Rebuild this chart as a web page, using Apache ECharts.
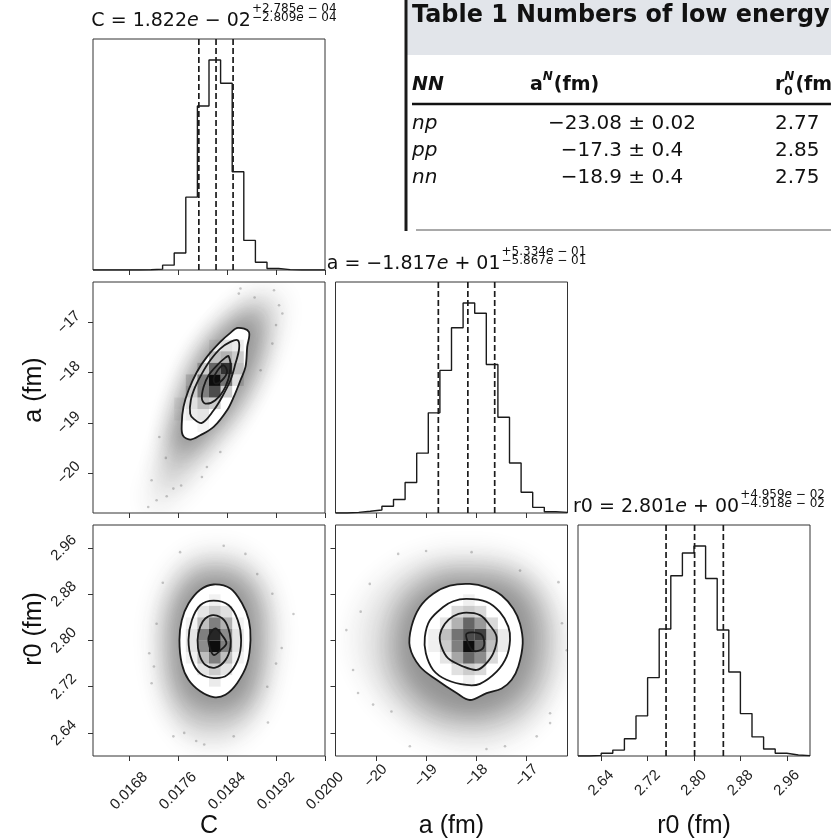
<!DOCTYPE html>
<html>
<head>
<meta charset="utf-8">
<script src="https://cdn.jsdelivr.net/npm/echarts@6/dist/echarts.min.js"></script>
<style>
  html, body { margin: 0; padding: 0; background: #fff; }
  #chart { width: 831px; height: 840px; }
</style>
</head>
<body>
<div id="chart"></div>
<script>
// ---------- parameter ranges and tick values ----------
const rangeC = [0.01621, 0.0200];
const rangeA = [-20.80, -16.19];
const rangeR = [2.600, 3.000];
const ticksC = [0.0168, 0.0176, 0.0184, 0.0192, 0.0200];
const ticksA = [-20, -19, -18, -17];
const ticksR = [2.64, 2.72, 2.80, 2.88, 2.96];

// ---------- marginal histograms (20 bins over each range, relative counts) ----------
const histC = [0, 0, 0, 0, 1, 4, 23, 81, 347, 781, 1000, 889, 468, 141, 37, 7, 2, 0, 0, 0];
const histA = [0, 3, 8, 14, 32, 64, 145, 285, 477, 679, 882, 1000, 951, 707, 456, 238, 99, 27, 6, 3];
const histR = [0, 3, 13, 28, 82, 191, 373, 605, 858, 967, 1000, 845, 600, 400, 202, 91, 33, 13, 5, 2];

// ---------- medians and 16/84 % offsets ----------
const paramNames = ['C', 'a', 'r0'];
const medians   = [0.01822, -18.17, 2.801];
const errPlus   = [2.785e-4, 0.5334, 0.04959];
const errMinus  = [2.809e-4, 0.5867, 0.04918];

// ---------- 2D panel: a vs C ----------
const contoursCA = [
  [[0.018575,-17.106],[0.018756,-17.186],[0.018729,-17.486],[0.018701,-17.885],[0.018619,-18.151],[0.018509,-18.484],[0.0184,-18.750],[0.018181,-19.083],[0.017962,-19.249],[0.017797,-19.335],[0.017677,-19.249],[0.01766,-19.016],[0.017688,-18.683],[0.01777,-18.351],[0.017907,-17.985],[0.018071,-17.685],[0.01829,-17.386],[0.018455,-17.206]],
  [[0.018575,-17.353],[0.018597,-17.519],[0.018537,-17.818],[0.018455,-18.151],[0.018318,-18.484],[0.018181,-18.750],[0.017989,-19.003],[0.017852,-18.916],[0.017797,-18.816],[0.017808,-18.550],[0.017879,-18.284],[0.017989,-18.018],[0.018126,-17.752],[0.01829,-17.519],[0.018455,-17.386]],
  [[0.018427,-17.672],[0.018455,-17.918],[0.018373,-18.284],[0.018208,-18.550],[0.018044,-18.617],[0.017989,-18.517],[0.018016,-18.284],[0.018099,-18.051],[0.018236,-17.852],[0.018373,-17.699]],
  [[0.018345,-17.852],[0.0184,-17.985],[0.018318,-18.151],[0.018208,-18.218],[0.018181,-18.118],[0.018247,-17.951]]
];
const cloudCA = [
  [[0.019057,-16.321],[0.019331,-16.554],[0.019277,-17.153],[0.019057,-17.885],[0.018729,-18.683],[0.018345,-19.415],[0.017962,-20.014],[0.017578,-20.546],[0.017194,-20.812],[0.017085,-20.480],[0.017249,-19.881],[0.017468,-19.083],[0.017688,-18.284],[0.018016,-17.486],[0.018455,-16.754],[0.018783,-16.421]],
  [[0.018948,-16.554],[0.019112,-16.820],[0.019057,-17.419],[0.018866,-18.084],[0.018564,-18.750],[0.018236,-19.282],[0.017852,-19.814],[0.017468,-20.214],[0.017304,-20.081],[0.017359,-19.548],[0.017523,-18.949],[0.017715,-18.284],[0.018016,-17.552],[0.0184,-16.953],[0.018729,-16.621]],
  [[0.018838,-16.820],[0.018948,-17.086],[0.01892,-17.619],[0.018756,-18.218],[0.018455,-18.816],[0.018126,-19.216],[0.017797,-19.548],[0.017523,-19.548],[0.017496,-19.149],[0.017578,-18.683],[0.017742,-18.084],[0.018016,-17.486],[0.018345,-17.086],[0.018619,-16.874]]
];
const dotsCA = [[0.019167,-16.355],[0.019249,-16.654],[0.019304,-16.820],[0.018592,-16.421],[0.017112,-20.679],[0.017249,-20.546],[0.017414,-20.466],[0.017523,-20.313],[0.017989,-20.081],[0.01829,-19.582],[0.018948,-17.951],[0.01914,-17.419],[0.017293,-19.282],[0.018071,-19.881],[0.017167,-20.147],[0.018619,-16.321],[0.019200,-17.050],[0.017400,-19.700],[0.018850,-16.500],[0.017650,-20.250]];
// density cells: [C bin, a bin, shade]
const cellsCA = [[10,11,0.95],[11,12,0.8],[10,12,0.6],[10,10,0.7],[11,11,0.55],[9,11,0.5],[9,10,0.5],[11,13,0.3],[12,13,0.2],[10,13,0.25],[12,12,0.25],[9,9,0.25],[8,9,0.12],[8,10,0.2],[12,14,0.08],[11,14,0.12],[10,9,0.2],[9,8,0.1],[8,8,0.08],[12,11,0.12],[11,10,0.2],[8,11,0.15],[9,12,0.2],[10,14,0.06],[7,8,0.04],[7,9,0.05],[9,7,0.04]];

// ---------- 2D panel: r0 vs C ----------
const contoursCR = [
  [[0.018181,2.897],[0.018455,2.890],[0.018646,2.864],[0.018756,2.835],[0.018783,2.801],[0.018729,2.760],[0.018564,2.726],[0.018373,2.706],[0.018181,2.702],[0.017962,2.712],[0.01777,2.732],[0.01766,2.760],[0.017622,2.801],[0.01766,2.835],[0.01777,2.864],[0.017962,2.888]],
  [[0.018181,2.869],[0.018427,2.861],[0.018575,2.835],[0.01863,2.801],[0.018575,2.766],[0.0184,2.740],[0.018181,2.735],[0.017962,2.743],[0.017825,2.766],[0.01777,2.801],[0.017825,2.835],[0.017962,2.861]],
  [[0.018181,2.844],[0.018356,2.835],[0.018444,2.812],[0.018455,2.789],[0.018373,2.766],[0.018208,2.753],[0.018044,2.758],[0.017951,2.775],[0.017918,2.801],[0.017962,2.824],[0.018044,2.838]],
  [[0.018208,2.821],[0.018318,2.809],[0.018389,2.795],[0.01829,2.783],[0.018181,2.775],[0.018115,2.789],[0.018099,2.806]]
];
const cloudCR = [
  [[0.018181,2.961],[0.018619,2.955],[0.019003,2.921],[0.019222,2.858],[0.019277,2.801],[0.019167,2.732],[0.018948,2.669],[0.018509,2.623],[0.018181,2.614],[0.017797,2.623],[0.017468,2.663],[0.017249,2.726],[0.017167,2.801],[0.017249,2.869],[0.017523,2.927],[0.017852,2.955]],
  [[0.018181,2.938],[0.018619,2.927],[0.018975,2.887],[0.019085,2.829],[0.019057,2.772],[0.018948,2.709],[0.018619,2.657],[0.018181,2.643],[0.017742,2.654],[0.017441,2.703],[0.017359,2.772],[0.017386,2.841],[0.017578,2.898],[0.017852,2.930]],
  [[0.018181,2.915],[0.018564,2.907],[0.018838,2.869],[0.01892,2.806],[0.018866,2.743],[0.018674,2.697],[0.01829,2.680],[0.017907,2.686],[0.017605,2.720],[0.017496,2.783],[0.017523,2.847],[0.017715,2.892],[0.017934,2.911]]
];
const dotsCR = [[0.019485,2.846],[0.019293,2.787],[0.017129,2.778],[0.017205,2.755],[0.017896,2.626],[0.018027,2.620],[0.018509,2.634],[0.019068,2.658],[0.017633,2.953],[0.018893,2.915],[0.01914,2.881],[0.017249,2.829],[0.019057,2.720],[0.017523,2.634],[0.018345,2.964],[0.017167,2.726],[0.017350,2.900],[0.019200,2.760],[0.018700,2.950],[0.017700,2.640]];
const cellsCR = [[10,9,0.95],[10,10,0.85],[9,10,0.5],[11,10,0.45],[11,9,0.5],[9,9,0.45],[10,11,0.5],[10,8,0.5],[9,11,0.25],[11,11,0.3],[9,8,0.25],[11,8,0.25],[10,12,0.2],[10,7,0.2],[10,6,0.08],[9,12,0.1],[11,12,0.12],[9,7,0.1],[11,7,0.1],[8,9,0.1],[8,10,0.1],[12,9,0.1],[12,10,0.1],[8,11,0.05],[12,11,0.05],[10,13,0.05],[8,8,0.05],[12,8,0.05]];

// ---------- 2D panel: r0 vs a ----------
const contoursAR = [
  [[-18.129,2.898],[-17.797,2.892],[-17.498,2.878],[-17.266,2.855],[-17.133,2.829],[-17.080,2.795],[-17.167,2.755],[-17.299,2.732],[-17.498,2.717],[-17.797,2.709],[-18.129,2.697],[-18.394,2.709],[-18.792,2.732],[-19.124,2.755],[-19.323,2.789],[-19.290,2.824],[-19.124,2.858],[-18.859,2.881],[-18.527,2.895]],
  [[-18.195,2.872],[-17.797,2.867],[-17.532,2.849],[-17.366,2.824],[-17.332,2.801],[-17.399,2.772],[-17.598,2.746],[-17.930,2.725],[-18.195,2.723],[-18.593,2.732],[-18.859,2.749],[-19.005,2.778],[-19.025,2.806],[-18.925,2.835],[-18.660,2.858],[-18.461,2.868]],
  [[-18.261,2.848],[-17.930,2.844],[-17.731,2.826],[-17.598,2.806],[-17.664,2.778],[-17.830,2.758],[-17.996,2.749],[-18.261,2.755],[-18.560,2.769],[-18.693,2.789],[-18.726,2.809],[-18.626,2.829],[-18.461,2.842]],
  [[-18.195,2.812],[-17.930,2.812],[-17.850,2.801],[-17.877,2.786],[-18.062,2.782],[-18.162,2.795]]
];
const cloudAR = [
  [[-18.195,2.958],[-17.399,2.950],[-16.802,2.921],[-16.337,2.858],[-16.204,2.789],[-16.404,2.715],[-16.868,2.652],[-17.532,2.617],[-18.195,2.611],[-18.925,2.629],[-19.655,2.669],[-20.186,2.726],[-20.451,2.789],[-20.319,2.858],[-19.788,2.915],[-18.991,2.950]],
  [[-18.195,2.9325],[-17.399,2.9267],[-16.868,2.898],[-16.536,2.8465],[-16.470,2.7891],[-16.603,2.726],[-17.001,2.6744],[-17.664,2.6486],[-18.261,2.6458],[-18.925,2.6572],[-19.522,2.6973],[-19.854,2.749],[-19.920,2.8063],[-19.721,2.8637],[-19.257,2.9095],[-18.726,2.9296]],
  [[-18.195,2.9095],[-17.532,2.9038],[-17.067,2.878],[-16.835,2.835],[-16.802,2.7891],[-16.934,2.7375],[-17.266,2.6973],[-17.797,2.6744],[-18.261,2.6715],[-18.792,2.6859],[-19.257,2.7174],[-19.522,2.7604],[-19.555,2.8063],[-19.390,2.858],[-18.991,2.8923],[-18.593,2.9084]]
];
const dotsAR = [[-20.584,2.818],[-20.451,2.749],[-20.119,2.898],[-19.555,2.950],[-17.133,2.921],[-16.204,2.783],[-16.536,2.674],[-16.536,2.657],[-16.802,2.634],[-19.323,2.617],[-19.688,2.677],[-20.352,2.709],[-16.370,2.901],[-20.053,2.689],[-17.432,2.617],[-18.096,2.953],[-20.300,2.850],[-16.300,2.830],[-19.000,2.955],[-17.800,2.612]];
const cellsAR = [[11,9,0.95],[11,11,0.6],[12,10,0.75],[10,10,0.55],[11,10,0.7],[12,9,0.6],[10,9,0.5],[11,8,0.6],[12,8,0.45],[10,8,0.35],[13,10,0.3],[13,9,0.25],[9,10,0.25],[9,9,0.2],[12,11,0.4],[10,11,0.3],[10,12,0.15],[11,12,0.2],[12,12,0.15],[10,7,0.12],[11,7,0.2],[12,7,0.15],[13,11,0.15],[13,8,0.15],[9,11,0.1],[9,8,0.1],[14,9,0.08],[14,10,0.08],[8,9,0.06],[8,10,0.06],[11,13,0.06],[11,6,0.06]];

// ---------- table overlay text ----------
const tableTitle = 'Table 1 Numbers of low energy';
const tableRows = [
  ['np', '−23.08 ± 0.02', '2.77'],
  ['pp', '−17.3 ± 0.4', '2.85'],
  ['nn', '−18.9 ± 0.4', '2.75']
];

// ================= layout =================
const NB = 20;
const colX = [93, 335.5, 578];
const rowY = [39, 282, 525];
const PW = 232, PH = 231;

const tickFont = 'Liberation Sans';
const tickSize = 15;
const fmtC = v => v.toFixed(4);
const fmtA = v => (v < 0 ? '−' : '') + Math.abs(v).toFixed(0);
const fmtR = v => v.toFixed(2);

const panels = [
  { col: 0, row: 0 }, // hist C
  { col: 0, row: 1 }, // a vs C
  { col: 0, row: 2 }, // r0 vs C
  { col: 1, row: 1 }, // hist a
  { col: 1, row: 2 }, // r0 vs a
  { col: 2, row: 2 }  // hist r0
];

const grids = panels.map(p => ({
  left: colX[p.col], top: rowY[p.row], width: PW, height: PH,
  show: true, borderColor: '#333', borderWidth: 1, backgroundColor: 'transparent'
}));

function valueAxisCfg(gi, range, ticks, fmt, showLabels, margin) {
  return {
    type: 'value', gridIndex: gi, min: range[0], max: range[1],
    axisLine: { show: false }, splitLine: { show: false },
    axisTick: { show: true, inside: false, length: 5, lineStyle: { color: '#333', width: 1 }, customValues: ticks },
    axisLabel: { show: showLabels, customValues: ticks, formatter: fmt, rotate: 45, align: 'center',
      verticalAlign: 'middle', margin: margin, fontFamily: tickFont, fontSize: tickSize, color: '#222' }
  };
}
function yHistCfg(gi, counts) {
  return {
    type: 'value', gridIndex: gi, min: 0, max: 1.1 * Math.max(...counts),
    axisLine: { show: false }, splitLine: { show: false }, axisTick: { show: false }, axisLabel: { show: false }
  };
}

const xAxes = [
  valueAxisCfg(0, rangeC, ticksC, fmtC, false, 30),
  valueAxisCfg(1, rangeC, ticksC, fmtC, false, 30),
  valueAxisCfg(2, rangeC, ticksC, fmtC, true, 35),
  valueAxisCfg(3, rangeA, ticksA, fmtA, false, 20),
  valueAxisCfg(4, rangeA, ticksA, fmtA, true, 20),
  valueAxisCfg(5, rangeR, ticksR, fmtR, true, 27)
];
const yAxes = [
  yHistCfg(0, histC),
  valueAxisCfg(1, rangeA, ticksA, fmtA, true, 24),
  valueAxisCfg(2, rangeR, ticksR, fmtR, true, 29),
  yHistCfg(3, histA),
  valueAxisCfg(4, rangeR, ticksR, fmtR, false, 29),
  yHistCfg(5, histR)
];

// ---------- series builders ----------
function stepPoints(range, counts) {
  const w = (range[1] - range[0]) / counts.length;
  const pts = [[range[0], 0]];
  counts.forEach((c, i) => {
    pts.push([range[0] + i * w, c]);
    pts.push([range[0] + (i + 1) * w, c]);
  });
  pts.push([range[1], 0]);
  return pts;
}
function histSeries(ai, range, counts, k) {
  const top = 1.1 * Math.max(...counts);
  const qs = [medians[k] - errMinus[k], medians[k], medians[k] + errPlus[k]];
  const out = [{
    type: 'line', xAxisIndex: ai, yAxisIndex: ai, data: stepPoints(range, counts),
    showSymbol: false, symbol: 'none', silent: true, clip: true, z: 3,
    lineStyle: { color: '#1b1b1b', width: 1.4 }
  }];
  qs.forEach(q => out.push({
    type: 'line', xAxisIndex: ai, yAxisIndex: ai, data: [[q, 0], [q, top]],
    showSymbol: false, symbol: 'none', silent: true, clip: true, z: 4,
    lineStyle: { color: '#1b1b1b', width: 1.7, type: [6, 3] }
  }));
  return out;
}
function polySeries(ai, polys, styleFn, smooth, z, shift) {
  return {
    type: 'custom', xAxisIndex: ai, yAxisIndex: ai, clip: true, silent: true, z: z,
    data: polys.map((p, k) => [p[0][0], p[0][1], k]),
    renderItem: (params, api) => {
      const pts = polys[params.dataIndex].map(v => api.coord(v));
      const el = { type: 'polygon', shape: { points: pts, smooth: smooth }, style: styleFn(params.dataIndex) };
      if (shift) el.x = -shift;   // only the blurred shadow lands inside the clipped panel
      return el;
    }
  };
}
function cellSeries(ai, cells, xr, yr, z) {
  const wx = (xr[1] - xr[0]) / NB, wy = (yr[1] - yr[0]) / NB;
  return {
    type: 'custom', xAxisIndex: ai, yAxisIndex: ai, clip: true, silent: true, z: z,
    encode: { x: [0, 2], y: [1, 3] },
    data: cells.map(c => [xr[0] + c[0] * wx, yr[0] + c[1] * wy, xr[0] + (c[0] + 1) * wx, yr[0] + (c[1] + 1) * wy, c[2]]),
    renderItem: (params, api) => {
      const p0 = api.coord([api.value(0), api.value(1)]);
      const p1 = api.coord([api.value(2), api.value(3)]);
      return {
        type: 'rect',
        shape: { x: p0[0], y: p1[1], width: p1[0] - p0[0], height: p0[1] - p1[1] },
        style: { fill: 'rgba(0,0,0,' + api.value(4) + ')' }
      };
    }
  };
}
const bandAlpha = [0.09, 0.18, 0.33];
const SHIFT = 3000;
function panel2D(ai, cloud, dots, contours, cells, xr, yr) {
  return [
    polySeries(ai, cloud, k => ({
      fill: 'rgba(40,40,40,' + bandAlpha[k] + ')',
      shadowBlur: 22, shadowColor: 'rgba(40,40,40,1)', shadowOffsetX: SHIFT
    }), 0.45, 1, SHIFT),
    {
      type: 'scatter', xAxisIndex: ai, yAxisIndex: ai, data: dots, symbolSize: 2.6, silent: true, z: 2,
      itemStyle: { color: 'rgba(60,60,60,0.35)' }
    },
    polySeries(ai, [contours[0]], () => ({ fill: '#ffffff' }), 0.35, 3, 0),
    cellSeries(ai, cells, xr, yr, 4),
    polySeries(ai, contours, () => ({ fill: 'none', stroke: '#1b1b1b', lineWidth: 1.8 }), 0.35, 5, 0)
  ];
}

const series = [
  ...histSeries(0, rangeC, histC, 0),
  ...panel2D(1, cloudCA, dotsCA, contoursCA, cellsCA, rangeC, rangeA),
  ...panel2D(2, cloudCR, dotsCR, contoursCR, cellsCR, rangeC, rangeR),
  ...histSeries(3, rangeA, histA, 1),
  ...panel2D(4, cloudAR, dotsAR, contoursAR, cellsAR, rangeA, rangeR),
  ...histSeries(5, rangeR, histR, 2)
];

// ---------- text helpers ----------
const mctx = document.createElement('canvas').getContext('2d');
function measure(str, font) { mctx.font = font; return mctx.measureText(str).width; }
function sciParts(v) {
  const [m, e] = v.toExponential(3).split('e');
  const n = parseInt(e, 10);
  return { mant: m.replace('-', '−'), sign: n < 0 ? '−' : '+', exp: String(Math.abs(n)).padStart(2, '0') };
}
const MF = 19, SF = 12;
function titleGraphics(k) {
  const cx = colX[k] + PW / 2, top = rowY[k];
  const p = sciParts(medians[k]), q = sciParts(errPlus[k]), r = sciParts(errMinus[k]);
  const mainA = paramNames[k] + ' = ' + p.mant, mainB = ' ' + p.sign + ' ' + p.exp;
  const supA = '+' + q.mant, supB = ' ' + q.sign + ' ' + q.exp;
  const subA = '−' + r.mant, subB = ' ' + r.sign + ' ' + r.exp;
  const fN = s => s + 'px "DejaVu Sans"', fI = s => 'italic ' + s + 'px "DejaVu Sans"';
  const wMain = measure(mainA, fN(MF)) + measure('e', fI(MF)) + measure(mainB, fN(MF));
  const wSup = measure(supA, fN(SF)) + measure('e', fI(SF)) + measure(supB, fN(SF));
  const wSub = measure(subA, fN(SF)) + measure('e', fI(SF)) + measure(subB, fN(SF));
  const total = wMain + 1 + Math.max(wSup, wSub);
  const left = cx + 5 - total / 2;
  const richM = {
    n: { fontFamily: 'DejaVu Sans', fontSize: MF, fill: '#111' },
    i: { fontFamily: 'DejaVu Sans', fontStyle: 'italic', fontSize: MF, fill: '#111' }
  };
  const richS = {
    n: { fontFamily: 'DejaVu Sans', fontSize: SF, fill: '#111' },
    i: { fontFamily: 'DejaVu Sans', fontStyle: 'italic', fontSize: SF, fill: '#111' }
  };
  return [
    { type: 'text', x: left, y: top - 18, z: 50, style: { text: '{n|' + mainA + '}{i|e}{n|' + mainB + '}', rich: richM, align: 'left', verticalAlign: 'middle' } },
    { type: 'text', x: left + wMain + 1, y: top - 30.5, z: 50, style: { text: '{n|' + supA + '}{i|e}{n|' + supB + '}', rich: richS, align: 'left', verticalAlign: 'middle' } },
    { type: 'text', x: left + wMain + 1, y: top - 21.5, z: 50, style: { text: '{n|' + subA + '}{i|e}{n|' + subB + '}', rich: richS, align: 'left', verticalAlign: 'middle' } }
  ];
}

const nameFont = '25px "Liberation Sans"';
const axisNames = [
  { type: 'text', x: colX[0] + PW / 2, y: 826, style: { text: 'C', font: nameFont, fill: '#111', align: 'center', verticalAlign: 'middle' } },
  { type: 'text', x: colX[1] + PW / 2, y: 826, style: { text: 'a (fm)', font: nameFont, fill: '#111', align: 'center', verticalAlign: 'middle' } },
  { type: 'text', x: colX[2] + PW / 2, y: 826, style: { text: 'r0 (fm)', font: nameFont, fill: '#111', align: 'center', verticalAlign: 'middle' } },
  { type: 'text', x: 34, y: 390, rotation: Math.PI / 2, style: { text: 'a (fm)', font: nameFont, fill: '#111', align: 'center', verticalAlign: 'middle' } },
  { type: 'text', x: 34, y: 629, rotation: Math.PI / 2, style: { text: 'r0 (fm)', font: nameFont, fill: '#111', align: 'center', verticalAlign: 'middle' } }
];

// ---------- table block ----------
const TF = '"DejaVu Sans"';
const titlePx = 21 * 418 / measure(tableTitle, 'bold 21px ' + TF);
const tblTitleFont = 'bold ' + titlePx.toFixed(1) + 'px ' + TF;
const headFont = 'bold 19px ' + TF;
const supFont = 'bold italic 12px ' + TF;
const rowFont = '20px ' + TF;
const yHead = 85, yLine = 104, yRows = [124, 151, 178], yBottom = 230;
const wA = measure('a', headFont), wN = measure('N', supFont);
const wR = measure('r', headFont);
const table = [
  { type: 'rect', z: 40, shape: { x: 407, y: 0, width: 424, height: 55 }, style: { fill: '#e2e5ea' } },
  { type: 'rect', z: 41, shape: { x: 404.5, y: 0, width: 3, height: yBottom + 1 }, style: { fill: '#1a1a1a' } },
  { type: 'text', z: 42, x: 412, y: 16, style: { text: tableTitle, font: tblTitleFont, fill: '#111', align: 'left', verticalAlign: 'middle' } },
  { type: 'text', z: 42, x: 412, y: yHead, style: { text: 'NN', font: 'bold italic 19px ' + TF, fill: '#111', align: 'left', verticalAlign: 'middle' } },
  { type: 'text', z: 42, x: 530, y: yHead, style: { text: 'a', font: headFont, fill: '#111', align: 'left', verticalAlign: 'middle' } },
  { type: 'text', z: 42, x: 530 + wA, y: yHead - 8, style: { text: 'N', font: supFont, fill: '#111', align: 'left', verticalAlign: 'middle' } },
  { type: 'text', z: 42, x: 530 + wA + wN + 1, y: yHead, style: { text: '(fm)', font: headFont, fill: '#111', align: 'left', verticalAlign: 'middle' } },
  { type: 'text', z: 42, x: 775, y: yHead, style: { text: 'r', font: headFont, fill: '#111', align: 'left', verticalAlign: 'middle' } },
  { type: 'text', z: 42, x: 775 + wR, y: yHead - 8, style: { text: 'N', font: supFont, fill: '#111', align: 'left', verticalAlign: 'middle' } },
  { type: 'text', z: 42, x: 775 + wR, y: yHead + 7, style: { text: '0', font: 'bold 12px ' + TF, fill: '#111', align: 'left', verticalAlign: 'middle' } },
  { type: 'text', z: 42, x: 775 + wR + wN + 1, y: yHead, style: { text: '(fm', font: headFont, fill: '#111', align: 'left', verticalAlign: 'middle' } },
  { type: 'line', z: 42, shape: { x1: 412, y1: yLine, x2: 831, y2: yLine }, style: { stroke: '#111', lineWidth: 2.5 } },
  { type: 'line', z: 42, shape: { x1: 416, y1: yBottom, x2: 831, y2: yBottom }, style: { stroke: '#555', lineWidth: 1 } }
];
tableRows.forEach((r, i) => {
  table.push({ type: 'text', z: 42, x: 412, y: yRows[i], style: { text: r[0], font: 'italic ' + rowFont, fill: '#111', align: 'left', verticalAlign: 'middle' } });
  table.push({ type: 'text', z: 42, x: 622, y: yRows[i], style: { text: r[1], font: rowFont, fill: '#111', align: 'center', verticalAlign: 'middle' } });
  table.push({ type: 'text', z: 42, x: 775, y: yRows[i], style: { text: r[2], font: rowFont, fill: '#111', align: 'left', verticalAlign: 'middle' } });
});

const chart = echarts.init(document.getElementById('chart'), null, { renderer: 'canvas' });
chart.setOption({
  animation: false,
  backgroundColor: '#ffffff',
  grid: grids,
  xAxis: xAxes,
  yAxis: yAxes,
  series: series,
  graphic: { elements: [...titleGraphics(0), ...titleGraphics(1), ...titleGraphics(2), ...axisNames, ...table] }
});
</script>
</body>
</html>
